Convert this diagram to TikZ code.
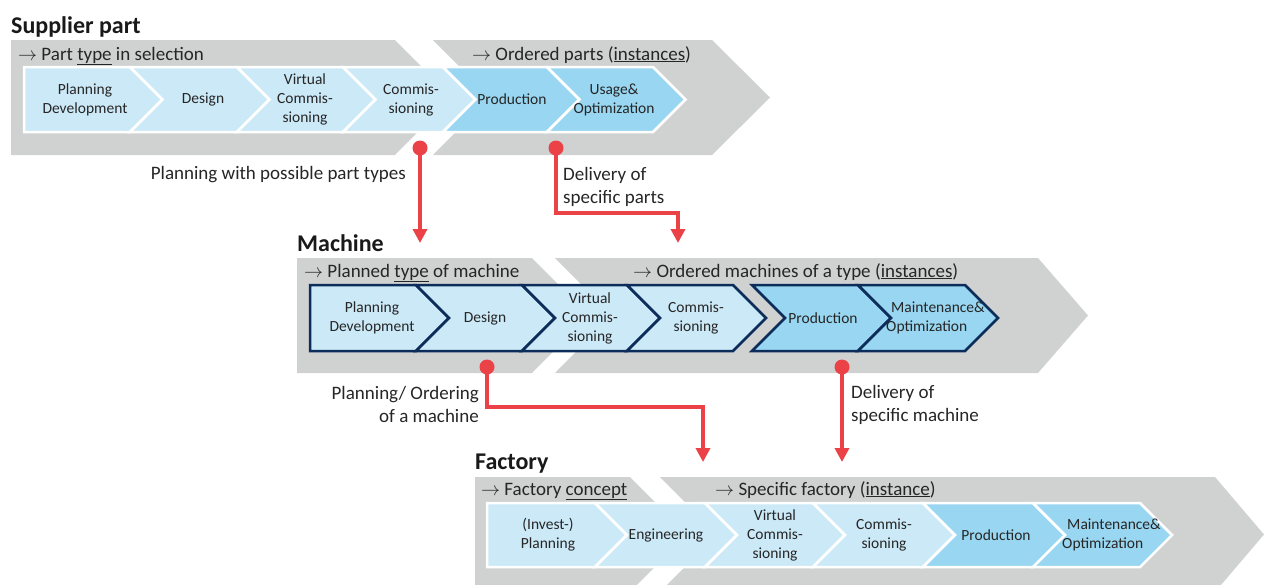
\RequirePackage{fix-cm}
\documentclass[tikz,border=0pt]{standalone}
\usepackage{fontspec}
\setmainfont{Carlito}
\usepackage{tikz}
\usetikzlibrary{arrows.meta}
\definecolor{BandGray}{RGB}{208,209,209}
\definecolor{StepLight}{RGB}{204,233,247}
\definecolor{StepDark}{RGB}{152,214,241}
\definecolor{StepNavy}{RGB}{12,44,90}
\definecolor{LinkRed}{RGB}{235,66,72}
\colorlet{TextGray}{black!85}
% one chevron step: style, name, left, right, notch, text x, text
\newcommand{\StepBox}[7]{%
	\path[#1] (#3,\Ry-\Rh) -- (#4,\Ry-\Rh) -- (#4+\Rh,\Ry) -- (#4,\Ry+\Rh) -- (#3,\Ry+\Rh) -- (#3+#5,\Ry) -- cycle;
	\node[StepText] (#2) at (#6,\Ry) {#7};
}

\begin{document}
\begin{tikzpicture}[
		x=1pt,y=-1pt,
		GrayBand/.style={fill=BandGray},
		LightStep/.style={fill=StepLight,draw=white,line width=2.5pt},
		DarkStep/.style={fill=StepDark,draw=white,line width=2.5pt},
		LightFrame/.style={fill=StepLight,draw=StepNavy,line width=2.5pt},
		DarkFrame/.style={fill=StepDark,draw=StepNavy,line width=2.5pt},
		StepText/.style={align=center,inner sep=0pt,text=TextGray,font=\fontsize{15.5}{19}\selectfont},
		Title/.style={anchor=base west,inner sep=0pt,text=black!90,font=\fontsize{24}{28}\selectfont\bfseries},
		Caption/.style={anchor=base west,inner sep=0pt,text=TextGray,font=\fontsize{19}{23}\selectfont},
		LinkText/.style={inner sep=0pt,text=TextGray,font=\fontsize{19}{23}\selectfont},
		RedLink/.style={draw=LinkRed,line width=3.5pt,-{Triangle[length=14pt,width=14pt]}}
		]
		\useasboundingbox (0,0) rectangle (1267,584);
		\clip (0,0) rectangle (1267,584);
		
		%% supplier part
		\fill[GrayBand] (11,40) -- (395,40) -- (452,97.5) -- (395,155) -- (11,155) -- cycle;
		\fill[GrayBand] (433,40) -- (712,40) -- (770,97.5) -- (712,155) -- (433,155) -- (490,97.5) -- cycle;
		
		\node[Title] (t1) at (11,33) {Supplier part};
		\node[Caption] (c11) at (18,60) {$\rightarrow$ Part \underline{type} in selection};
		\node[Caption] (c12) at (472,60) {$\rightarrow$ Ordered parts (\underline{instances})};
		
		\pgfmathparse{99.5}		\let\Ry\pgfmathresult
		\pgfmathparse{32.5}		\let\Rh\pgfmathresult
		\StepBox{LightStep}{sp1}{24}{130}{0}{85}{Planning\\Development}
		\StepBox{LightStep}{sp2}{130}{237}{\Rh}{203}{Design}
		\StepBox{LightStep}{sp3}{237}{343}{\Rh}{305}{Virtual\\Commis-\\sioning}
		\StepBox{LightStep}{sp4}{343}{443}{\Rh}{411}{Commis-\\sioning}
		\StepBox{DarkStep}{sp5}{443}{547}{\Rh}{512}{Production}
		\StepBox{DarkStep}{sp6}{547}{653}{\Rh}{614}{Usage\&\\Optimization}
		
		%% machine
		\fill[GrayBand] (297,258) -- (532,258) -- (589,315.5) -- (532,373) -- (297,373) -- cycle;
		\fill[GrayBand] (555,258) -- (1038,258) -- (1088,315.5) -- (1038,373) -- (555,373) -- (612,315.5) -- cycle;
		
		\node[Title] (t2) at (297,251) {Machine};
		\node[Caption] (c21) at (304,277) {$\rightarrow$ Planned \underline{type} of machine};
		\node[Caption] (c22) at (633,277) {$\rightarrow$ Ordered machines of a type (\underline{instances})};
		
		\pgfmathparse{318}		\let\Ry\pgfmathresult
		\pgfmathparse{33}		\let\Rh\pgfmathresult
		\StepBox{LightFrame}{ma1}{310}{416}{0}{372}{Planning\\Development}
		\StepBox{LightFrame}{ma2}{416}{522}{\Rh}{485}{Design}
		\StepBox{LightFrame}{ma3}{522}{627}{\Rh}{590}{Virtual\\Commis-\\sioning}
		\StepBox{LightFrame}{ma4}{627}{733}{\Rh}{696}{Commis-\\sioning}
		\StepBox{DarkFrame}{ma5}{752}{858}{\Rh}{823}{Production}
		\StepBox{DarkFrame}{ma6}{858}{965}{\Rh}{935.5}{\begin{tabular}{@{}l@{}}\hspace*{5pt}Maintenance\&\\Optimization\end{tabular}}
		
		%% factory
		\fill[GrayBand] (475,477) -- (630,477) -- (687,534.5) -- (630,592) -- (475,592) -- cycle;
		\fill[GrayBand] (660,477) -- (1215,477) -- (1264,534.5) -- (1215,592) -- (660,592) -- (717,534.5) -- cycle;
		
		\node[Title] (t3) at (475,469) {Factory};
		\node[Caption] (c31) at (481,495) {$\rightarrow$ Factory \underline{concept}};
		\node[Caption] (c32) at (715,495) {$\rightarrow$ Specific factory (\underline{instance})};
		
		\pgfmathparse{535}		\let\Ry\pgfmathresult
		\pgfmathparse{32}		\let\Rh\pgfmathresult
		\StepBox{LightStep}{fa1}{487}{595}{0}{548}{(Invest-)\\Planning}
		\StepBox{LightStep}{fa2}{595}{705}{\Rh}{666}{Engineering}
		\StepBox{LightStep}{fa3}{705}{813}{\Rh}{775}{Virtual\\Commis-\\sioning}
		\StepBox{LightStep}{fa4}{813}{923}{\Rh}{884}{Commis-\\sioning}
		\StepBox{DarkStep}{fa5}{923}{1033}{\Rh}{996}{Production}
		\StepBox{DarkStep}{fa6}{1033}{1140}{\Rh}{1111.5}{\begin{tabular}{@{}l@{}}\hspace*{5pt}Maintenance\&\\Optimization\end{tabular}}
		
		%% links
		\coordinate (d1) at (420,148);
		\coordinate (e1) at (420,243);
		\coordinate (d2) at (556,148);
		\coordinate (k2) at (678,213);
		\coordinate (e2) at (678,243);
		\coordinate (d3) at (487,367);
		\coordinate (k3) at (703,407);
		\coordinate (e3) at (703,462);
		\coordinate (d4) at (842,367);
		\coordinate (e4) at (842,462);
		
		\draw[RedLink] (d1) -- (e1);
		\draw[RedLink] (d2) |- (k2) -- (e2);
		\draw[RedLink] (d3) |- (k3) -- (e3);
		\draw[RedLink] (d4) -- (e4);
		\foreach \d in {d1,d2,d3,d4}
			\fill[LinkRed] (\d) circle (7.5pt);
		
		\node[LinkText,anchor=east] (l1) at (406,175) {Planning with possible part types};
		\node[LinkText,anchor=west,align=left] (l2) at (563,186.5) {Delivery of\\specific parts};
		\node[LinkText,anchor=east,align=right] (l3) at (479,404.5) {Planning/ Ordering\\of a machine};
		\node[LinkText,anchor=west,align=left] (l4) at (851,404.5) {Delivery of\\specific machine};
		
\end{tikzpicture}
\end{document}
